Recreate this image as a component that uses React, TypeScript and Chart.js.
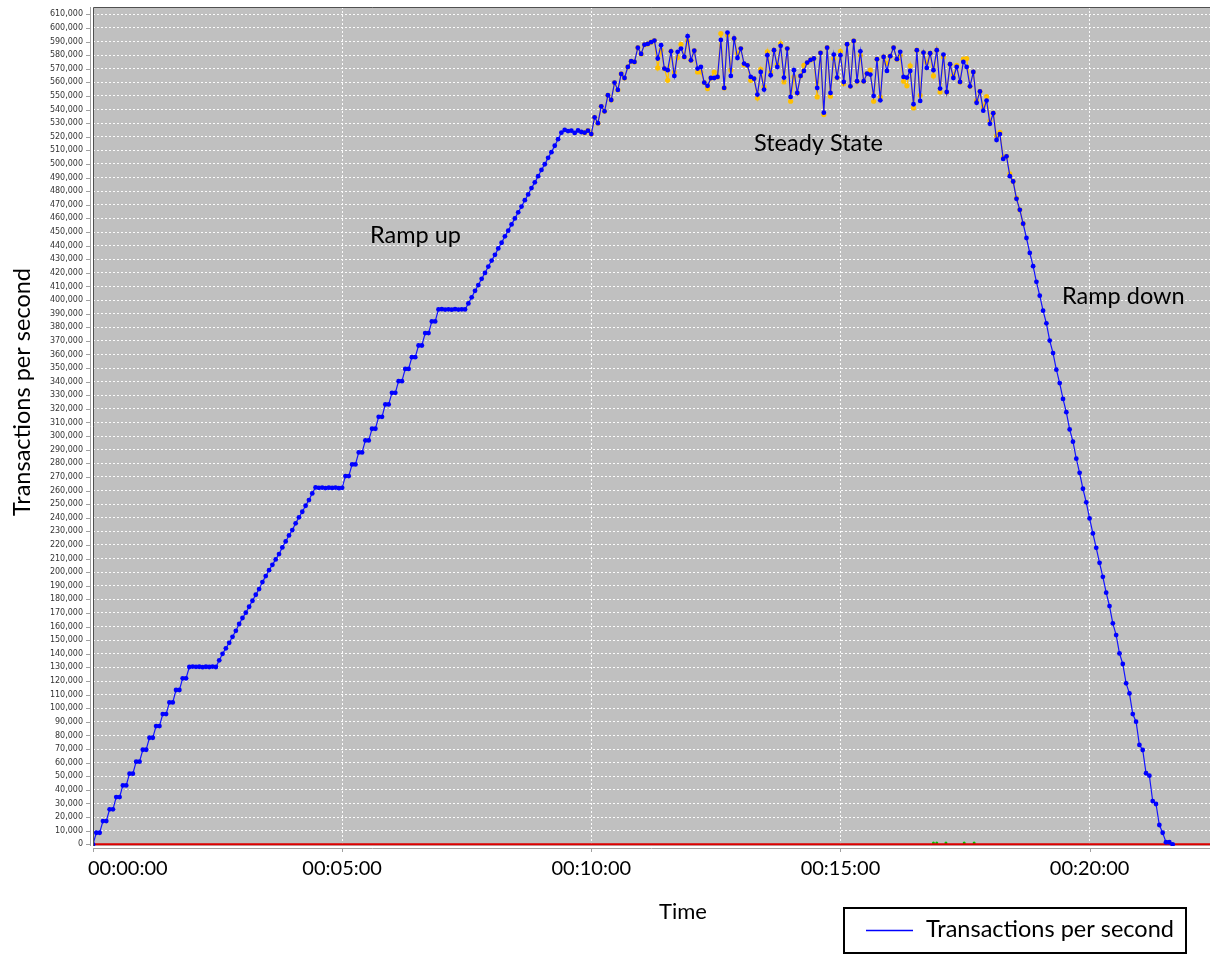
import React, { useEffect, useRef } from "react";
import { Chart, registerables } from "chart.js";

Chart.register(...registerables);

// ---- data (transactions per second, thousands), one sample every 4 seconds ----
const SAMPLE_SECONDS = 4;

const stairsA = [0, 8.5, 8.5, 17.1, 17.1, 25.7, 25.7, 34.7, 34.7, 43.3, 43.3, 51.9, 51.9, 60.7, 60.7, 69.5, 69.5, 78.3, 78.3, 86.9, 86.9, 95.7, 95.7, 104.3, 104.3, 113.4, 113.4, 122.0, 122.0];
const plateauA = [130.3, 130.6, 130.4, 130.5, 130.2, 130.5, 130.3, 130.6, 130.3];
const rampB = [135.2, 140.0, 144.0, 148.1, 152.5, 156.9, 161.9, 166.3, 170.2, 174.6, 179.0, 183.4, 187.6, 192.7, 197.1, 201.5, 205.4, 209.4, 213.3, 218.2, 222.6, 227.0, 230.9, 235.9, 240.3, 244.4, 248.8, 253.0, 257.9];
const plateauB = [262.3, 262.0, 262.2, 261.8, 262.1, 261.9, 262.2, 261.7, 262.0];
const stairsC = [270.6, 270.6, 279.2, 279.2, 288.0, 288.0, 296.8, 296.8, 305.4, 305.4, 314.2, 314.2, 323.3, 323.3, 331.8, 331.8, 340.4, 340.4, 349.4, 349.4, 358.0, 358.0, 366.6, 366.6, 375.7, 375.7, 384.3, 384.3];
const plateauC = [393.1, 393.3, 393.0, 393.2, 392.9, 393.3, 393.0, 393.2, 393.1];
const rampD = [397.5, 402.0, 406.8, 411.0, 415.6, 419.9, 424.6, 429.0, 433.2, 437.9, 442.1, 446.8, 451.0, 455.6, 460.0, 464.5, 468.7, 473.4, 477.6, 482.3, 486.5, 491.0, 495.6, 499.8, 504.5, 508.7, 513.4, 518.2];
const plateauD = [523.0, 525.0, 524.2, 524.5, 522.8, 524.6, 523.5, 523.0, 524.5, 522.0];
const riseE = [534.3, 530.0, 542.4, 538.7, 550.5, 547.0, 559.8, 554.4, 566.2, 563.2, 571.3, 575.5, 575.0, 585.5, 580.9, 587.7, 588.2, 589.5, 590.7];
const steadyState = [
  577.5, 587.3, 570.1, 568.9, 582.8, 564.7, 582.4, 584.8, 578.7, 593.9, 576.2, 583.3, 570.1, 571.3, 559.8, 557.4, 563.2, 563.2, 564.0, 591.2,
  555.9, 596.6, 564.7, 592.2, 577.9, 584.8, 573.8, 572.5, 564.0, 562.7, 551.0, 567.6, 554.7, 579.9, 565.2, 583.6, 571.3, 586.8, 563.5, 584.8,
  549.3, 568.9, 552.2, 564.7, 568.4, 574.5, 576.5, 577.5, 555.9, 581.6, 537.7, 585.5, 552.2, 580.4, 563.5, 579.9, 560.3, 588.0, 557.1, 590.4,
  560.8, 582.8, 560.8, 566.4, 565.7, 550.0, 577.0, 546.8, 578.7, 568.4, 579.2, 585.5, 577.0, 582.4, 564.0, 563.5, 568.4, 543.9, 583.6, 546.3,
  581.9, 570.6, 581.4, 568.9, 583.6, 555.4, 580.4, 552.9, 573.3, 563.2, 571.3, 560.3, 575.0, 571.3, 557.1, 567.6,
];
const rampDown = [
  545.0, 553.3, 539.2, 546.6, 529.5, 537.3, 517.6, 522.0, 503.7, 505.6, 491.0, 487.1, 474.4,
  466.3, 456.1, 445.6, 434.6, 424.9, 413.4, 403.2, 392.2, 382.9, 370.2, 361.0, 348.8, 339.0, 327.3, 317.6, 304.9, 295.9, 283.4,
  273.0, 261.3, 251.3, 239.5, 228.5, 217.9, 206.9, 196.6, 184.9, 175.1, 162.4, 153.8, 140.3, 132.5, 118.3, 110.9, 95.7, 90.1,
  73.0, 69.3, 52.2, 50.4, 31.8, 29.6, 14.2, 8.5, 1.5, 1.5, 0,
];

// second (orange) series: shares the blue readings except where it differs
const orangeFirstIndex = 148;
const orangeLastIndex = 280;
const orangeReadings: [number, number][] = [
  [170, 570.6], [171, 583.6], [173, 561.5], [175, 567.6], [176, 578.2], [177, 588.0], [179, 590.7], [182, 567.6], [183, 567.6],
  [185, 555.4], [187, 567.6], [189, 595.8], [191, 594.6], [192, 568.9], [194, 581.1], [196, 573.0], [198, 561.5], [200, 548.5],
  [201, 569.6], [202, 556.6], [203, 582.4], [204, 567.6], [206, 573.0], [207, 588.5], [208, 560.3], [210, 546.1], [211, 564.0],
  [214, 572.5], [218, 549.3], [220, 536.3], [222, 549.8], [223, 577.5], [225, 582.8], [226, 559.0], [231, 579.9], [234, 568.9],
  [235, 546.1], [237, 549.3], [239, 573.8], [243, 579.9], [244, 560.8], [245, 557.4], [246, 572.1], [247, 541.2], [249, 550.5],
  [251, 574.5], [253, 564.7], [255, 552.9], [256, 578.7], [259, 565.2], [260, 572.5], [262, 577.0], [263, 577.5], [266, 546.5],
  [268, 542.0], [269, 549.5], [270, 531.7], [272, 520.7], [273, 523.2], [274, 504.9], [276, 492.7], [278, 475.0],
];

const errorTimes = [0, 1345];
const errorValues = [0, 0];
const greenTimes = [1012, 1016, 1027, 1049, 1061];
const greenValues = [1000, 1000, 1000, 1000, 1000];

const xTickValues = [0, 300, 600, 900, 1200];
const xTickLabels = ["00:00:00", "00:05:00", "00:10:00", "00:15:00", "00:20:00"];
const yTickMax = 610000;
const yTickStep = 10000;

const xTitle = "Time";
const yTitle = "Transactions per second";
const legendLabel = "Transactions per second";
const phaseLabels = ["Ramp up", "Steady State", "Ramp down"];

const tpsK = [...stairsA, ...plateauA, ...rampB, ...plateauB, ...stairsC, ...plateauC, ...rampD, ...plateauD, ...riseE, ...steadyState, ...rampDown];

const FONT = 'Lato, "DejaVu Sans", sans-serif';

const decorations = {
  id: "decorations",
  beforeDraw(chart: any) {
    const { ctx, chartArea: a } = chart;
    ctx.save();
    ctx.fillStyle = "#c0c0c0";
    ctx.fillRect(a.left, a.top, a.right - a.left, a.bottom - a.top);
    ctx.restore();
  },
  afterDraw(chart: any) {
    const { ctx, chartArea: a, scales } = chart;
    const xs = scales.x;
    const ys = scales.y;
    ctx.save();
    // plot outline (top and left)
    ctx.strokeStyle = "#505050";
    ctx.lineWidth = 1;
    ctx.beginPath();
    ctx.moveTo(a.left + 0.5, a.bottom);
    ctx.lineTo(a.left + 0.5, a.top + 0.5);
    ctx.lineTo(a.right, a.top + 0.5);
    ctx.stroke();
    // axis lines and tick marks
    ctx.strokeStyle = "#a0a0a0";
    ctx.beginPath();
    ctx.moveTo(a.left - 2.5, a.top);
    ctx.lineTo(a.left - 2.5, a.bottom);
    ys.ticks.forEach((t: any) => {
      const py = Math.round(ys.getPixelForValue(t.value)) + 0.5;
      ctx.moveTo(a.left - 7, py);
      ctx.lineTo(a.left - 2.5, py);
    });
    ctx.moveTo(a.left, a.bottom + 2.5);
    ctx.lineTo(a.right, a.bottom + 2.5);
    xTickValues.forEach((v) => {
      const px = Math.round(xs.getPixelForValue(v)) + 0.5;
      ctx.moveTo(px, a.bottom + 2.5);
      ctx.lineTo(px, a.bottom + 6);
    });
    ctx.stroke();

    // x tick labels
    ctx.fillStyle = "#000";
    ctx.font = `20px ${FONT}`;
    ctx.textBaseline = "alphabetic";
    ctx.textAlign = "left";
    xTickValues.forEach((v, i) => {
      const label = xTickLabels[i];
      const w = ctx.measureText(label).width;
      const cx = xs.getPixelForValue(v);
      const left = Math.max(cx - w / 2, a.left - 5);
      ctx.fillText(label, left, 875);
    });
    // x title
    ctx.font = `22px ${FONT}`;
    ctx.textAlign = "center";
    ctx.fillText(xTitle, 683, 919);
    // y title
    ctx.font = `23.5px ${FONT}`;
    ctx.save();
    ctx.translate(30, 392);
    ctx.rotate(-Math.PI / 2);
    ctx.textAlign = "center";
    ctx.fillText(yTitle, 0, 0);
    ctx.restore();
    // phase annotations
    ctx.textAlign = "left";
    ctx.fillText(phaseLabels[0], 370, 243);
    ctx.fillText(phaseLabels[1], 754, 151);
    ctx.fillText(phaseLabels[2], 1062, 304);
    // legend box
    ctx.strokeStyle = "#000";
    ctx.lineWidth = 2;
    ctx.strokeRect(844, 908, 342, 45);
    ctx.strokeStyle = "#0000ff";
    ctx.lineWidth = 1.5;
    ctx.beginPath();
    ctx.moveTo(866, 930.5);
    ctx.lineTo(913, 930.5);
    ctx.stroke();
    ctx.fillText(legendLabel, 926, 937);
    ctx.restore();
  },
};

export default function App() {
  const canvasRef = useRef<HTMLCanvasElement | null>(null);

  useEffect(() => {
    if (!canvasRef.current) return;
    const blue = tpsK.map((v, i) => ({ x: i * SAMPLE_SECONDS, y: v * 1000 }));
    const orangeMap = new Map(orangeReadings);
    const orange: { x: number; y: number }[] = [];
    for (let i = orangeFirstIndex; i <= orangeLastIndex; i++) {
      const v = orangeMap.has(i) ? (orangeMap.get(i) as number) : tpsK[i];
      orange.push({ x: i * SAMPLE_SECONDS, y: v * 1000 });
    }
    const errors = errorTimes.map((t, i) => ({ x: t, y: errorValues[i] }));
    const green = greenTimes.map((t, i) => ({ x: t, y: greenValues[i] }));

    const chart = new Chart(canvasRef.current, {
      type: "line",
      data: {
        datasets: [
          {
            label: legendLabel,
            data: blue,
            borderColor: "#1414ff",
            backgroundColor: "#0000ff",
            borderWidth: 1.2,
            pointRadius: 2.4,
            pointBorderWidth: 0,
            pointBackgroundColor: "#0000ff",
            tension: 0,
          },
          {
            label: "errors",
            data: errors,
            borderColor: "#dd0000",
            borderWidth: 2,
            pointRadius: 0,
          },
          {
            label: "second",
            data: orange,
            borderColor: "#ffc000",
            backgroundColor: "#ffc000",
            borderWidth: 1.3,
            pointRadius: 2.6,
            pointBorderWidth: 0,
            pointBackgroundColor: "#ffc000",
          },
          {
            label: "other",
            data: green,
            showLine: false,
            pointRadius: 1.5,
            pointBorderWidth: 0,
            pointBackgroundColor: "#00c000",
          },
        ],
      },
      options: {
        animation: false,
        responsive: false,
        layout: { padding: { top: 7, right: 0, bottom: 0, left: 0 } },
        plugins: { legend: { display: false }, tooltip: { enabled: false }, title: { display: false } },
        scales: {
          x: {
            type: "linear",
            min: 0,
            max: 1345,
            afterFit: (s: any) => {
              s.height = 110;
            },
            ticks: { display: false, stepSize: 300 },
            afterBuildTicks: (s: any) => {
              s.ticks = xTickValues.map((v) => ({ value: v }));
            },
            grid: { color: "rgba(255,255,255,0.95)", drawTicks: false, lineWidth: 1 },
            border: { display: false, dash: [2, 2] },
          },
          y: {
            type: "linear",
            min: -1250,
            max: 615365,
            afterFit: (s: any) => {
              s.width = 93;
              s.paddingTop = 0;
              s.paddingBottom = 0;
            },
            afterBuildTicks: (s: any) => {
              const t: { value: number }[] = [];
              for (let v = 0; v <= yTickMax; v += yTickStep) t.push({ value: v });
              s.ticks = t;
            },
            ticks: {
              padding: 10,
              color: "#333",
              font: { family: '"DejaVu Sans", sans-serif', size: 8 },
              callback: (v: any) => Number(v).toLocaleString("en-US"),
            },
            grid: { color: "rgba(255,255,255,0.95)", drawTicks: false, lineWidth: 1 },
            border: { display: false, dash: [2, 2] },
          },
        },
      },
      plugins: [decorations],
    });
    return () => chart.destroy();
  }, []);

  return (
    <div style={{ position: "absolute", left: 0, top: 0, width: 1214, height: 956, background: "#fff" }}>
      <canvas ref={canvasRef} width={1214} height={956} />
    </div>
  );
}
